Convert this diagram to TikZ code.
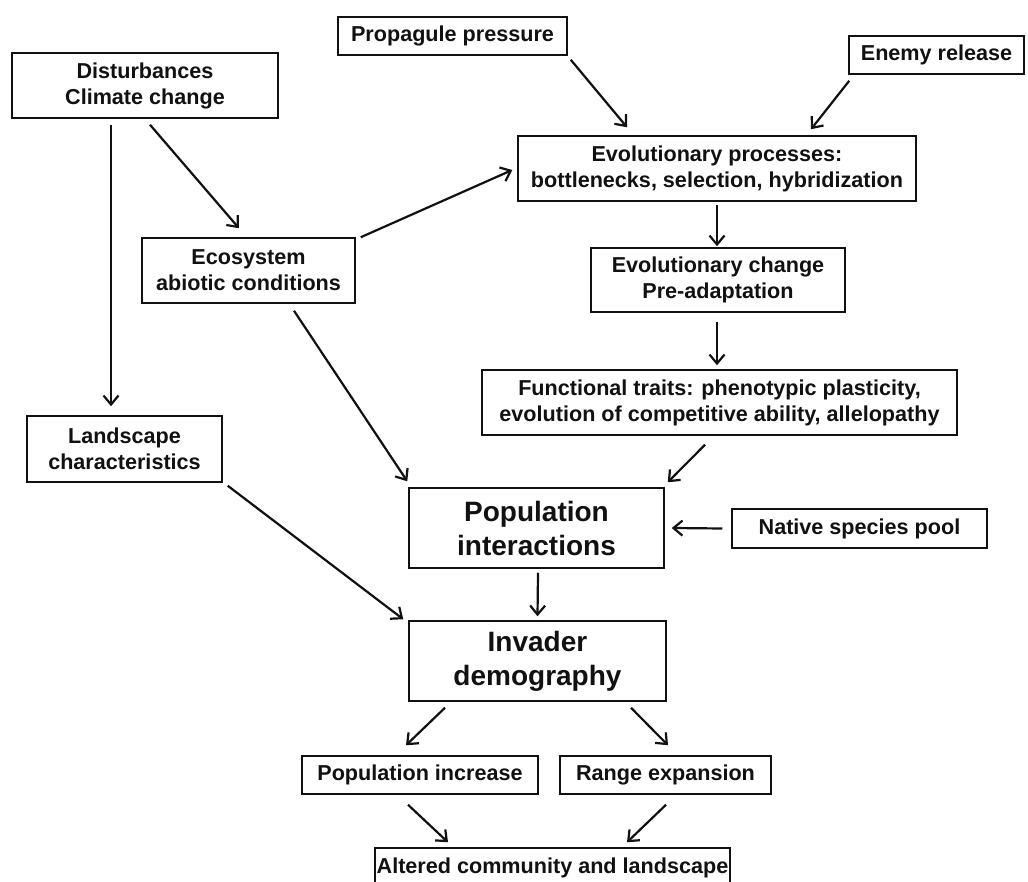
\documentclass[tikz,border=0pt]{standalone}
\usepackage{fontspec}
\setmainfont{Liberation Sans}
\usetikzlibrary{
  arrows.meta,
  calc
}
\definecolor{inkBlack}{HTML}{111111}
\tikzset{
  box/.style    = {rectangle, draw=inkBlack, line width=1.5pt,
                   inner sep=0pt, align=center, text=inkBlack,
                   font=\fontsize{21.6}{26}\selectfont\bfseries},
  bigbox/.style = {box, font=\fontsize{28}{34}\selectfont\bfseries},
  arrow/.style  = {-{Straight Barb[length=9pt, width=15pt]},
                   line width=2.2pt, draw=inkBlack}
}
\begin{document}
\begin{tikzpicture}[x=1pt, y=-1pt]
\useasboundingbox (0,0) rectangle (1028,882);

% drivers
\node[box, minimum width=229pt, minimum height=38pt] (prop)  at (452.5,36)  {Propagule pressure};
\node[box, minimum width=175pt, minimum height=38pt] (enemy) at (936.5,55)  {Enemy release};
\node[box, minimum width=266pt, minimum height=65pt] (dist)  at (145,85.5)  {Disturbances\\Climate change};
\node[box, minimum width=213pt, minimum height=65pt] (eco)   at (248.5,270.5) {Ecosystem\\abiotic conditions};
\node[box, minimum width=195pt, minimum height=66pt] (land)  at (124.5,449) {Landscape\\characteristics};

% evolution chain
\node[box, minimum width=398pt, minimum height=65pt] (evop)  at (717,168.5) {Evolutionary processes:\\bottlenecks, selection, hybridization};
\node[box, minimum width=254pt, minimum height=64pt] (evoc)  at (718,280)   {Evolutionary change\\Pre-adaptation};
\node[box, minimum width=475pt, minimum height=65pt] (func)  at (719.5,402.5) {Functional traits: phenotypic plasticity,\\evolution of competitive ability, allelopathy};

% population level
\node[bigbox, minimum width=255pt, minimum height=80pt] (popi) at (536.5,528) {Population\\interactions};
\node[box, minimum width=255pt, minimum height=39pt] (native) at (859.5,528.5) {Native species pool};
\node[bigbox, minimum width=257pt, minimum height=80pt] (inv)  at (537.5,661) {Invader\\demography};

% outcomes
\node[box, minimum width=236pt, minimum height=38pt] (popinc) at (420,775)   {Population increase};
\node[box, minimum width=211pt, minimum height=38pt] (range)  at (665.5,775) {Range expansion};
\node[box, minimum width=355pt, minimum height=40pt] (alt)    at (552.5,868) {Altered community and landscape};

% connectors
\draw[arrow] ([xshift=-34pt, yshift=-6pt]dist.south) -- ([xshift=-13.5pt, yshift=9pt]land.north);
\draw[arrow] ([xshift=5pt, yshift=-6pt]dist.south) -- ([xshift=-9.5pt, yshift=9pt]eco.north);
\draw[arrow] ([xshift=5pt]eco.north east) -- ([xshift=-5pt, yshift=-1.5pt]evop.west);
\draw[arrow] ([xshift=3pt, yshift=-4pt]prop.south east) -- ([xshift=-90pt, yshift=8pt]evop.north);
\draw[arrow] ([xshift=1pt, yshift=-6pt]enemy.south west) -- ([xshift=94pt, yshift=6pt]evop.north);
\draw[arrow] ([yshift=-3pt]evop.south) -- ([yshift=1pt]evop.south |- evoc.north);
\draw[arrow] ([xshift=-1pt, yshift=-9pt]evoc.south) -- ([xshift=-1pt, yshift=4pt]evoc.south |- func.north);
\draw[arrow] ([xshift=45.5pt, yshift=-7pt]eco.south) -- ([xshift=-1pt, yshift=6pt]popi.north west);
\draw[arrow] ([xshift=-14.5pt, yshift=-9pt]func.south) -- ([xshift=3pt, yshift=5pt]popi.north east);
\draw[arrow] ([xshift=-9pt]native.west) -- ([xshift=7pt]popi.east);
\draw[arrow] ([xshift=5pt, yshift=-3pt]land.south east) -- ([xshift=-5pt, yshift=1pt]inv.north west);
\draw[arrow] ([xshift=1.5pt, yshift=-4pt]popi.south) -- ([yshift=4pt]inv.north);
\draw[arrow] ([xshift=-92.5pt, yshift=-6pt]inv.south) -- ([xshift=-14pt, yshift=10pt]popinc.north);
\draw[arrow] ([xshift=93.5pt, yshift=-6pt]inv.south) -- ([xshift=2.5pt, yshift=10pt]range.north);
\draw[arrow] ([xshift=-12pt, yshift=-10pt]popinc.south) -- ([xshift=-104.5pt, yshift=5pt]alt.north);
\draw[arrow] ([xshift=0.5pt, yshift=-10pt]range.south) -- ([xshift=74.5pt, yshift=5pt]alt.north);
\end{tikzpicture}
\end{document}
